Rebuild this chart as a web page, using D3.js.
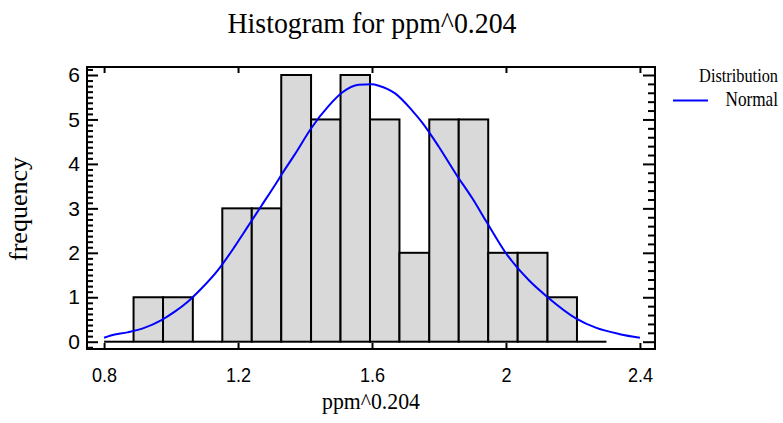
<!DOCTYPE html>
<html>
<head>
<meta charset="utf-8">
<script src="https://cdn.jsdelivr.net/npm/d3@7"></script>
<style>
  body { margin: 0; background: #fff; }
  svg { display: block; }
</style>
</head>
<body>
<div id="chart"></div>
<script>
// histogram classes (17 classes from 0.8 to 2.3)
const binEdges = [0.800, 0.888, 0.976, 1.065, 1.153, 1.241, 1.329, 1.418, 1.506,
                  1.594, 1.682, 1.771, 1.859, 1.947, 2.035, 2.124, 2.212, 2.300];
const binCounts = [0, 1, 1, 0, 3, 3, 6, 5, 6, 5, 2, 5, 5, 2, 2, 1, 0];

// fitted normal curve
const normalX = [0.80, 0.82, 0.87, 0.92, 0.97, 1.01, 1.05, 1.09, 1.14, 1.19, 1.23, 1.27,
                 1.31, 1.33, 1.37, 1.42, 1.47, 1.51, 1.56, 1.60, 1.62, 1.67, 1.72, 1.75,
                 1.80, 1.85, 1.90, 1.94, 2.00, 2.07, 2.12, 2.21, 2.27, 2.34, 2.40];
const normalY = [0.09, 0.14, 0.21, 0.31, 0.48, 0.67, 0.90, 1.19, 1.61, 2.14, 2.60, 3.06,
                 3.52, 3.76, 4.22, 4.82, 5.30, 5.60, 5.78, 5.79, 5.76, 5.58, 5.20, 4.93,
                 4.38, 3.78, 3.22, 2.72, 1.99, 1.37, 1.03, 0.52, 0.31, 0.17, 0.09];

const xTicks = [0.8, 1.2, 1.6, 2.0, 2.4];
const yTicks = [0, 1, 2, 3, 4, 5, 6];

const W = 783, H = 423;
const frame = { left: 87, right: 655, top: 67, bottom: 349 };

const svg = d3.select("#chart").append("svg")
    .attr("width", W)
    .attr("height", H);

svg.append("rect").attr("width", W).attr("height", H).attr("fill", "#fff");

const x = d3.scaleLinear().domain([0.749, 2.445]).range([frame.left, frame.right]);
const y = d3.scaleLinear().domain([-0.164, 6.18]).range([frame.bottom, frame.top]);

const bins = binCounts.map((c, i) => ({ x0: binEdges[i], x1: binEdges[i + 1], count: c }));

// bars
svg.append("g").selectAll("rect")
    .data(bins.filter(d => d.count > 0))
    .enter().append("rect")
    .attr("x", d => x(d.x0))
    .attr("y", d => y(d.count))
    .attr("width", d => x(d.x1) - x(d.x0))
    .attr("height", d => y(0) - y(d.count))
    .attr("fill", "#d9d9d9")
    .attr("stroke", "#000")
    .attr("stroke-width", 2);

// empty classes are just a line at zero
svg.append("g").selectAll("line")
    .data(bins.filter(d => d.count === 0))
    .enter().append("line")
    .attr("x1", d => x(d.x0))
    .attr("x2", d => x(d.x1))
    .attr("y1", y(0))
    .attr("y2", y(0))
    .attr("stroke", "#000")
    .attr("stroke-width", 2);

// normal curve
const line = d3.line()
    .x(d => x(d[0]))
    .y(d => y(d[1]))
    .curve(d3.curveMonotoneX);

svg.append("path")
    .datum(normalX.map((v, i) => [v, normalY[i]]))
    .attr("d", line)
    .attr("fill", "none")
    .attr("stroke", "#0000ff")
    .attr("stroke-width", 2);

// minor tick values
const leftMinor = d3.range(-1, 50).map(i => i * 0.125).filter(v => v % 1 !== 0 && v > -0.16 && v < 6.18);
const rightMinor = d3.range(-1, 31).map(i => i * 0.2).filter(v => Math.abs(v - Math.round(v)) > 0.01 && v > -0.16 && v < 6.18);

function styleAxis(g) {
    g.select(".domain").remove();
    g.selectAll(".tick line").attr("stroke", "#000").attr("stroke-width", 2);
}

// left axis
svg.append("g")
    .attr("transform", `translate(${frame.left},0)`)
    .call(d3.axisLeft(y).tickValues(leftMinor).tickSize(-6).tickFormat(""))
    .call(styleAxis);

const leftAxis = svg.append("g")
    .attr("transform", `translate(${frame.left},0)`)
    .call(d3.axisLeft(y).tickValues(yTicks).tickSize(-11).tickPadding(7).tickFormat(d3.format("d")))
    .call(styleAxis);

// right axis
svg.append("g")
    .attr("transform", `translate(${frame.right},0)`)
    .call(d3.axisRight(y).tickValues(rightMinor).tickSize(-7).tickFormat(""))
    .call(styleAxis);

svg.append("g")
    .attr("transform", `translate(${frame.right},0)`)
    .call(d3.axisRight(y).tickValues(yTicks).tickSize(-12).tickFormat(""))
    .call(styleAxis);

// top axis
svg.append("g")
    .attr("transform", `translate(0,${frame.top})`)
    .call(d3.axisTop(x).tickValues(xTicks).tickSize(-6).tickFormat(""))
    .call(styleAxis);

// bottom axis
const bottomAxis = svg.append("g")
    .attr("transform", `translate(0,${frame.bottom})`)
    .call(d3.axisBottom(x).tickValues(xTicks).tickSize(-6).tickPadding(18).tickFormat(d3.format("")))
    .call(styleAxis);

[leftAxis, bottomAxis].forEach(a => {
    a.selectAll("text")
        .attr("fill", "#000")
        .attr("font-family", "'Liberation Sans', Arial, sans-serif")
        .attr("font-size", 21);
});
bottomAxis.selectAll("text").attr("transform", "scale(0.86,1)");

// frame
svg.append("rect")
    .attr("x", frame.left)
    .attr("y", frame.top)
    .attr("width", frame.right - frame.left)
    .attr("height", frame.bottom - frame.top)
    .attr("fill", "none")
    .attr("stroke", "#000")
    .attr("stroke-width", 2);

const serif = "'Liberation Serif', 'Times New Roman', serif";

// title
svg.append("text")
    .attr("x", 372)
    .attr("y", 33)
    .attr("text-anchor", "middle")
    .attr("textLength", 289)
    .attr("lengthAdjust", "spacingAndGlyphs")
    .style("font-family", serif)
    .style("font-size", "30px")
    .text("Histogram for ppm^0.204");

// x label
svg.append("text")
    .attr("x", 371)
    .attr("y", 409)
    .attr("text-anchor", "middle")
    .attr("textLength", 98)
    .attr("lengthAdjust", "spacingAndGlyphs")
    .style("font-family", serif)
    .style("font-size", "23px")
    .text("ppm^0.204");

// y label
svg.append("text")
    .attr("transform", "translate(27,209) rotate(-90)")
    .attr("text-anchor", "middle")
    .style("font-family", serif)
    .style("font-size", "26px")
    .text("frequency");

// legend
const legend = svg.append("g");
legend.append("g")
    .attr("transform", "translate(778,82) scale(0.86,1)")
    .append("text")
    .attr("text-anchor", "end")
    .style("font-family", serif)
    .style("font-size", "19px")
    .text("Distribution");

legend.append("line")
    .attr("x1", 673)
    .attr("x2", 708)
    .attr("y1", 100.5)
    .attr("y2", 100.5)
    .attr("stroke", "#0000ff")
    .attr("stroke-width", 2);

legend.append("g")
    .attr("transform", "translate(778,106) scale(0.86,1)")
    .append("text")
    .attr("text-anchor", "end")
    .style("font-family", serif)
    .style("font-size", "20px")
    .text("Normal");
</script>
</body>
</html>
